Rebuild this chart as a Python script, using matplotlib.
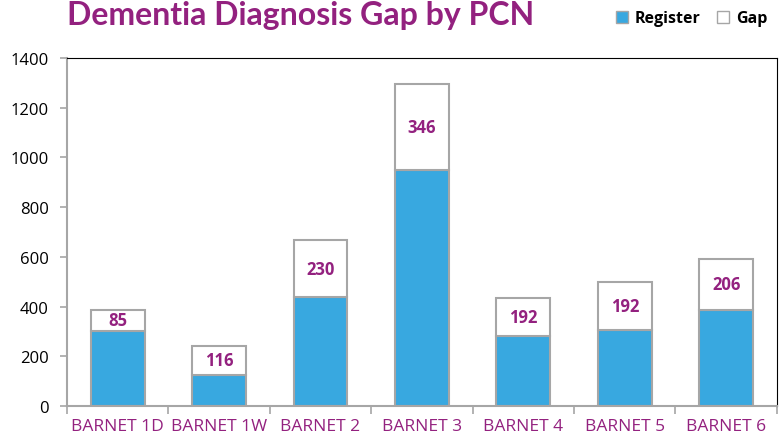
import numpy as np
import matplotlib.pyplot as plt
from matplotlib.patches import Patch

pcns = ["BARNET 1D", "BARNET 1W", "BARNET 2", "BARNET 3", "BARNET 4", "BARNET 5", "BARNET 6"]
register = [302, 126, 437, 948, 280, 306, 386]
gap = [85, 116, 231, 346, 154, 192, 206]
gap_labels = ["85", "116", "230", "346", "192", "192", "206"]

purple = "#93217F"
blue = "#38A8E0"
edge = "#A6A6A6"

plt.rcParams["font.family"] = ["Open Sans", "DejaVu Sans"]

fig = plt.figure(figsize=(7.8, 4.39), dpi=100)
ax = fig.add_axes([0.0859, 0.0729, 0.9101, 0.7927])

x = np.arange(len(pcns))
ax.bar(x, register, width=0.53, color=blue, edgecolor=edge, linewidth=1.5, label="Register")
ax.bar(x, gap, width=0.53, bottom=register, color="white", edgecolor=edge, linewidth=1.5, label="Gap")

for xi, r, g, lab in zip(x, register, gap, gap_labels):
    ax.text(xi, r + g / 2, lab, ha="center", va="center", color=purple,
            fontsize=12, fontweight="bold")

ax.set_xlim(-0.5, len(pcns) - 0.5)
ax.set_ylim(0, 1400)
ax.set_yticks(range(0, 1401, 200))
ax.tick_params(axis="y", labelsize=12, colors="black", length=5, color=edge, width=1.2, pad=8)
ax.set_xticks(x)
ax.set_xticklabels(pcns, color=purple, fontsize=12.5)
ax.tick_params(axis="x", length=0, pad=9)
ax.set_xticks(np.arange(-0.5, len(pcns)), minor=True)
ax.tick_params(axis="x", which="minor", length=6, color=edge, width=1.2)

ax.spines["left"].set_color(edge)
ax.spines["left"].set_linewidth(1.5)
ax.spines["bottom"].set_color(edge)
ax.spines["bottom"].set_linewidth(1.5)
ax.spines["top"].set_color("black")
ax.spines["right"].set_color("black")

fig.text(67 / 780, 1 - 25 / 439, "Dementia Diagnosis Gap by PCN", color=purple,
         fontsize=23, fontweight="bold", family=["Lato", "DejaVu Sans"], va="baseline")

handles = [Patch(facecolor=blue, edgecolor=edge, label="Register"),
           Patch(facecolor="white", edgecolor=edge, label="Gap")]
fig.legend(handles=handles, loc="upper right", bbox_to_anchor=(0.998, 1.0), ncol=2,
           frameon=False, prop={"weight": "bold", "size": 11.5},
           handlelength=0.8, handleheight=0.8, handletextpad=0.4, columnspacing=1.0,
           borderaxespad=0.3)

fig.savefig("out.png", dpi=100)
